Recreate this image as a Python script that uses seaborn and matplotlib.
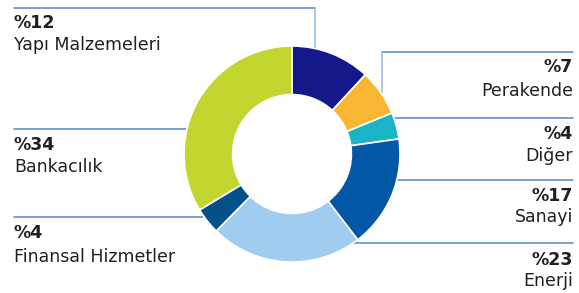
import numpy as np
import matplotlib
matplotlib.use('Agg')
import matplotlib.pyplot as plt
import seaborn as sns

sns.set_theme(style='white')
plt.rcParams['font.family'] = ['DejaVu Sans']

# data (clockwise from 12 o'clock)
sectors = ['Yapı Malzemeleri', 'Perakende', 'Diğer', 'Sanayi', 'Enerji',
           'Finansal Hizmetler', 'Bankacılık']
shares = [12, 7, 4, 17, 23, 4, 34]
colors = ['#14198A', '#F8B733', '#1BB3C8', '#0258A6', '#9FCCEF', '#03508B', '#C3D630']

W, H = 579, 293
fig = plt.figure(figsize=(W / 100, H / 100), dpi=100)

# donut: centre (292, 154) px, outer radius 108 px
cx, cy, r = 292, 154, 108
ax = fig.add_axes([(cx - r) / W, (H - cy - r) / H, 2 * r / W, 2 * r / H])
ax.pie(shares, colors=colors, startangle=90, counterclock=False, radius=1,
       wedgeprops=dict(width=0.45, edgecolor='white', linewidth=1.2))
ax.set_xlim(-1, 1)
ax.set_ylim(-1, 1)
ax.axis('off')

# overlay in pixel coordinates for leader lines and labels
ov = fig.add_axes([0, 0, 1, 1], zorder=-1)
ov.set_xlim(0, W)
ov.set_ylim(H, 0)
ov.axis('off')

line_c = '#4F86C6'
vline_c = '#93BBE4'
lw = 1.1
# leader lines
ov.plot([14, 315], [8, 8], color=line_c, lw=lw)
ov.plot([315, 315], [8, 50], color=vline_c, lw=lw)
ov.plot([382, 573], [52, 52], color=line_c, lw=lw)
ov.plot([382, 382], [52, 95], color=vline_c, lw=lw)
ov.plot([393, 573], [118, 118], color=line_c, lw=lw)
ov.plot([398, 573], [180, 180], color=line_c, lw=lw)
ov.plot([353, 573], [243, 243], color=line_c, lw=lw)
ov.plot([14, 187], [129, 129], color=line_c, lw=lw)
ov.plot([14, 203], [217, 217], color=line_c, lw=lw)

# labels: (x, baseline of pct, baseline of name, align)
label_pos = {
    'Yapı Malzemeleri': (14, 28, 50, 'left'),
    'Perakende': (573, 72, 96, 'right'),
    'Diğer': (573, 139, 161, 'right'),
    'Sanayi': (573, 201, 222, 'right'),
    'Enerji': (573, 265, 286, 'right'),
    'Bankacılık': (14, 150, 172, 'left'),
    'Finansal Hizmetler': (14, 238, 262, 'left'),
}
txt_c = '#231F20'
for name, val in zip(sectors, shares):
    x, yp, yn, ha = label_pos[name]
    ov.text(x, yp, f'%{val}', ha=ha, va='baseline', fontsize=12.5,
            fontweight='bold', color=txt_c)
    ov.text(x, yn, name, ha=ha, va='baseline', fontsize=12.5, color=txt_c)

fig.savefig('out.png', dpi=100, facecolor='white')
